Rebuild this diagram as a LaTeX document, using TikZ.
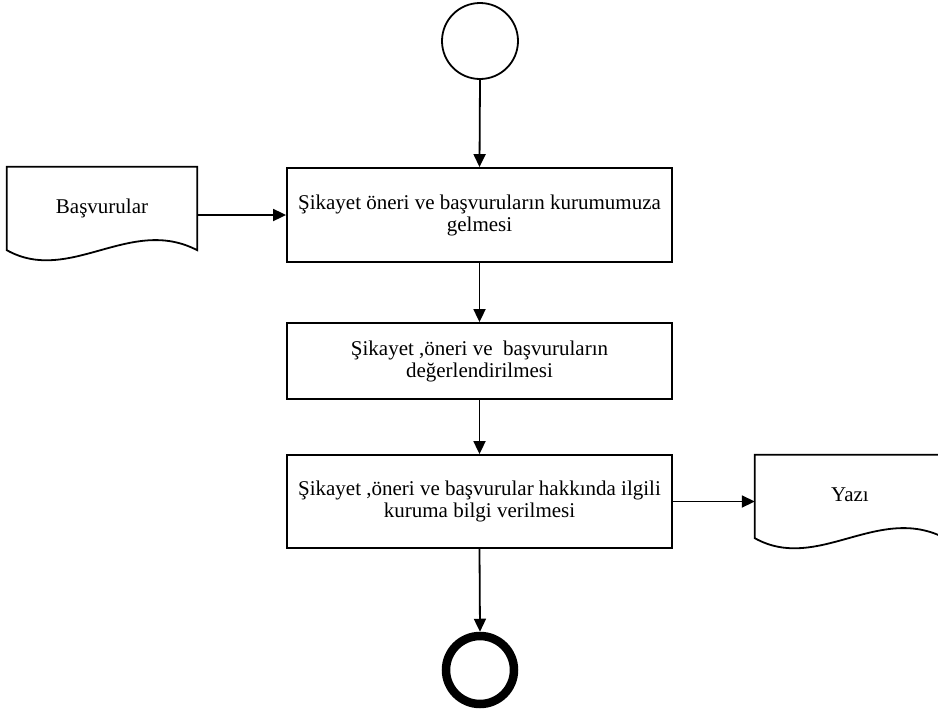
\documentclass[tikz,border=0pt]{standalone}
\usepackage{fontspec}
\setmainfont{Liberation Serif}
\usetikzlibrary{arrows.meta,calc}

\tikzset{
  every node/.style={font=\fontsize{21}{22}\selectfont},
  stroke/.style={line width=1.8pt, draw=black},
  procbox/.style={stroke, rectangle, minimum width=385pt, align=center, inner sep=0pt},
  docbox/.style={rectangle, minimum width=190pt, minimum height=83pt, inner sep=0pt, align=center},
  flow/.style={line width=1.8pt, -{Triangle[length=13pt,width=12pt]}},
  startev/.style={stroke, circle, minimum size=76pt, inner sep=0pt},
  endev/.style={draw=black, line width=8.5pt, circle, minimum size=68pt, inner sep=0pt},
}

% paper document with a wavy lower edge
\newcommand\docshape[1]{%
  \draw[stroke, line join=miter] (#1.north west) -- (#1.north east) -- (#1.south east)
    .. controls ($(#1.south east)+(-67,-35)$) and ($(#1.south west)+(63,35)$) .. (#1.south west) -- cycle;}

\begin{document}
\begin{tikzpicture}[x=1pt, y=-1pt]
  \clip (0,0) rectangle (938,715);

  \node[startev] (start) at (480,41) {};
  \node[procbox, minimum height=94pt] (recv) at (479.5,215)
    {Şikayet öneri ve başvuruların kurumumuza\\gelmesi};
  \node[procbox, minimum height=76pt] (eval) at (479.5,361)
    {Şikayet ,öneri ve\ \ başvuruların\\değerlendirilmesi};
  \node[procbox, minimum height=93pt] (inform) at (479.5,501.5)
    {Şikayet ,öneri ve başvurular hakkında ilgili\\kuruma bilgi verilmesi};
  \node[endev] (end) at (480,670) {};

  \node[docbox] (basv) at (102,208.5) {\raisebox{3pt}{Başvurular}};
  \docshape{basv}
  \node[docbox] (yazi) at (850,496.5) {\raisebox{3pt}{Yazı}};
  \docshape{yazi}

  \draw[flow] (start.south) -- (recv.north);
  \draw[flow] (recv.south) -- (eval.north);
  \draw[flow] (eval.south) -- (inform.north);
  \draw[flow] (inform.south) -- (end.north);
  \draw[flow] (recv.west -| basv.east) -- (recv.west);
  \draw[flow] (inform.east) -- (inform.east -| yazi.west);
\end{tikzpicture}
\end{document}
